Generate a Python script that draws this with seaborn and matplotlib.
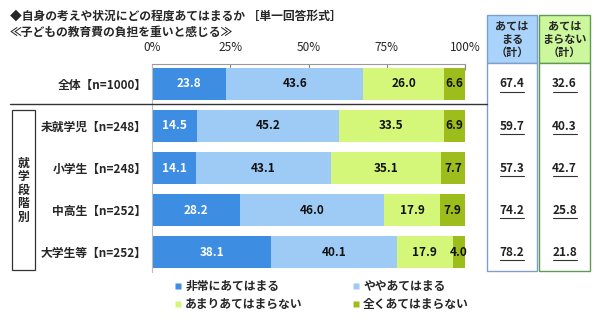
import matplotlib
matplotlib.use("Agg")
import matplotlib.pyplot as plt
import seaborn as sns
import pandas as pd
import numpy as np
from matplotlib.patches import Rectangle
from matplotlib.lines import Line2D

sns.set_style("white")
plt.rcParams['font.family'] = ['Noto Sans CJK JP', 'DejaVu Sans']

# ---- data ----
categories = ["全体【n=1000】", "未就学児【n=248】", "小学生【n=248】", "中高生【n=252】", "大学生等【n=252】"]
series_names = ["非常にあてはまる", "ややあてはまる", "あまりあてはまらない", "全くあてはまらない"]
very = [23.8, 14.5, 14.1, 28.2, 38.1]
somewhat = [43.6, 45.2, 43.1, 46.0, 40.1]
not_much = [26.0, 33.5, 35.1, 17.9, 17.9]
not_at_all = [6.6, 6.9, 7.7, 7.9, 4.0]
applies_total = ["67.4", "59.7", "57.3", "74.2", "78.2"]
not_applies_total = ["32.6", "40.3", "42.7", "25.8", "21.8"]
xticks = [0, 25, 50, 75, 100]
xtick_labels = ["0%", "25%", "50%", "75%", "100%"]
title1 = "◆自身の考えや状況にどの程度あてはまるか ［単一回答形式］"
title2 = "≪子どもの教育費の負担を重いと感じる≫"
group_label = "就学段階別"
head_applies = "あては\nまる\n（計）"
head_not = "あては\nまらない\n（計）"

colors = ["#3d8de3", "#9ecaf6", "#d4f77a", "#9cbd1c"]
text_colors = ["white", "#111111", "#111111", "#111111"]

W, H = 600, 329
fig = plt.figure(figsize=(W / 100, H / 100), dpi=100)

def fx(px):
    return px / W

def fy(py):
    return 1 - py / H

ax_l, ax_r, ax_t, ax_b = 152, 465, 64, 272
ax = fig.add_axes([fx(ax_l), fy(ax_b), fx(ax_r - ax_l), (ax_b - ax_t) / H])

vals = np.array([very, somewhat, not_much, not_at_all])
cum = np.cumsum(vals, axis=0)
df = pd.DataFrame({"cat": categories})
for i in range(4):
    df[f"c{i}"] = cum[i]

for i in reversed(range(4)):
    sns.barplot(data=df, y="cat", x=f"c{i}", order=categories, orient="h",
                color=colors[i], saturation=1, width=0.74, ax=ax, edgecolor="none")

starts = np.vstack([np.zeros(len(categories)), cum[:-1]])
for i in range(4):
    for j in range(len(categories)):
        v = vals[i][j]
        ax.text(starts[i][j] + v / 2, j, f"{v:.1f}", ha="center", va="center",
                fontsize=8.5, fontweight="bold", color=text_colors[i])

ax.set_xlim(0, 100)
ax.set_ylim(4.476, -0.476)
ax.set_xlabel("")
ax.set_ylabel("")
ax.xaxis.tick_top()
ax.set_xticks(xticks)
ax.set_xticklabels(xtick_labels, fontsize=8.5)
ax.tick_params(axis="x", direction="in", length=4, color="#888888", pad=7)
ax.set_yticks(range(len(categories)))
ax.set_yticklabels(categories, fontsize=8.5, fontweight="bold")
ax.tick_params(axis="y", length=0, pad=4)
for s in ["right", "bottom"]:
    ax.spines[s].set_visible(False)
ax.spines["top"].set_color("#999999")
ax.spines["top"].set_linewidth(0.8)
ax.spines["left"].set_color("#bbbbbb")
ax.spines["left"].set_linewidth(0.8)

# titles
fig.text(fx(10), fy(16), title1, fontsize=8.5, fontweight="bold", va="center", ha="left")
fig.text(fx(10), fy(32), title2, fontsize=8.5, fontweight="bold", va="center", ha="left")

# separator line
fig.add_artist(Line2D([fx(10), fx(487)], [fy(104), fy(104)], color="#333333", lw=1))

# group box
fig.add_artist(Rectangle((fx(12), fy(270)), fx(23), (270 - 110) / H, fill=False,
                         edgecolor="#333333", lw=0.9))
fig.text(fx(23.5), fy(190), "\n".join(group_label), fontsize=8.5, fontweight="bold",
         ha="center", va="center", linespacing=1.05)

# right summary boxes
row_y = [84, 126, 168, 210, 252]
boxes = [(487, 537, "#a9d3fb", "#7e9fcc", head_applies, applies_total),
         (539, 590, "#ccf79c", "#5f9a55", head_not, not_applies_total)]
for x0, x1, fill, edge, head, valsr in boxes:
    fig.add_artist(Rectangle((fx(x0), fy(63)), fx(x1 - x0), (63 - 15) / H,
                             facecolor=fill, edgecolor=edge, lw=1))
    fig.add_artist(Rectangle((fx(x0), fy(271)), fx(x1 - x0), (271 - 63) / H,
                             facecolor="white", edgecolor=edge, lw=1))
    cx = (x0 + x1) / 2
    fig.text(fx(cx), fy(39), head, fontsize=8, fontweight="bold", ha="center",
             va="center", linespacing=1.0)
    for yy, t in zip(row_y, valsr):
        fig.text(fx(cx), fy(yy), t, fontsize=8.5, fontweight="bold", ha="center",
                 va="center", color="#222222")
        fig.add_artist(Line2D([fx(cx - 12), fx(cx + 12)], [fy(yy + 8), fy(yy + 8)],
                              color="#333333", lw=0.8))

# legend (row-wise order: 非常に, やや / あまり, 全く)
handles = [Line2D([0], [0], marker="s", color="none", markerfacecolor=c,
                  markeredgecolor="none", markersize=5) for c in colors]
order = [0, 2, 1, 3]
fig.legend([handles[k] for k in order], [series_names[k] for k in order], ncol=2,
           loc="upper left", bbox_to_anchor=(fx(170), fy(275)), frameon=False,
           prop={"size": 8.5, "weight": "bold"}, handlelength=0.6, handletextpad=0.3,
           columnspacing=4.2, labelspacing=0.45, borderaxespad=0)

fig.savefig("out.png", dpi=100)
